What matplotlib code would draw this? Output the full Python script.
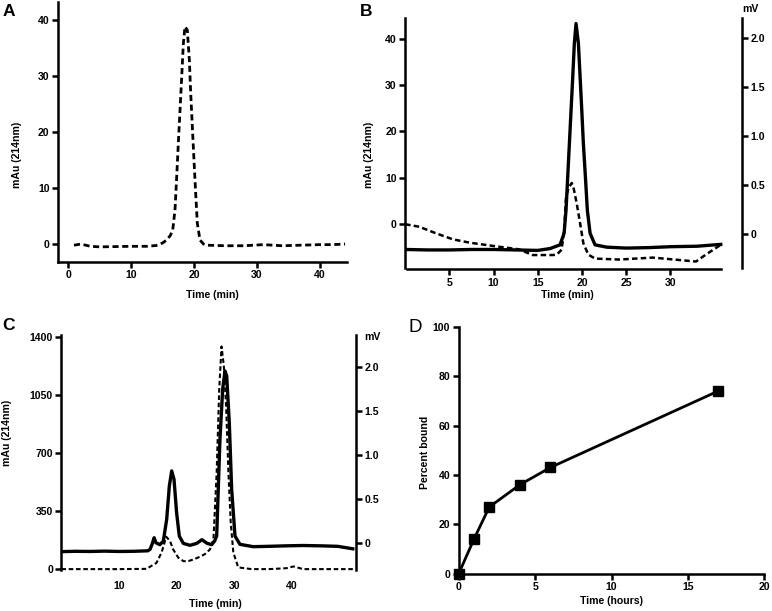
import matplotlib
matplotlib.use("Agg")
import matplotlib.pyplot as plt
import numpy as np

plt.rcParams['font.family'] = ['Liberation Sans', 'DejaVu Sans']
plt.rcParams['font.weight'] = 'bold'
plt.rcParams['axes.linewidth'] = 1.8

# ---------------- Panel A data ----------------
a_time = [0.9, 2, 3.5, 5, 7.5, 10, 12.5, 14, 15, 15.6, 16.2, 16.6, 16.96, 17.23, 17.49,
          17.76, 18.03, 18.29, 18.55, 18.92, 19.24, 19.46, 19.72, 19.98, 20.25, 20.51,
          20.94, 21.5, 22, 25, 28, 31, 34, 37, 40, 42, 44]
a_mau = [-0.2, 0.0, -0.4, -0.5, -0.45, -0.4, -0.4, -0.25, 0.2, 0.7, 1.5, 2.5, 6.1, 12.0, 18.0,
         23.9, 29.9, 35.8, 38.8, 38.2, 32.9, 26.9, 20.9, 15.0, 9.05, 3.7,
         0.7, 0.0, -0.2, -0.3, -0.3, -0.1, -0.3, -0.2, -0.1, -0.1, 0.0]

# ---------------- Panel B data ----------------
b_uv_time = [0.1, 2.5, 5, 7.5, 10, 12.5, 15, 16.4, 17.52, 17.98, 18.2, 18.39, 18.58, 18.77,
             18.96, 19.14, 19.33, 19.6, 19.79, 19.98, 20.16, 20.39, 20.61, 20.92, 21.48,
             22.8, 25, 27.5, 30, 33, 35.7]
b_uv_mau = [-5.5, -5.6, -5.6, -5.5, -5.5, -5.6, -5.7, -5.3, -4.5, -2.0, 3.0, 10.2, 17.4, 24.6,
            31.8, 39.0, 43.3, 39.0, 31.8, 24.6, 17.4, 10.2, 3.0, -2.0, -4.5,
            -5.0, -5.2, -5.1, -4.9, -4.8, -4.4]
b_rad_time = [0.0, 1.6, 3.5, 5.4, 7.3, 10, 12.9, 14.4, 16.7, 17.15, 17.7, 18.0, 18.2, 18.5,
              18.84, 19.03, 19.41, 19.79, 20.16, 20.72, 21.48, 24.2, 28, 32.9, 34, 35.7]
b_rad_mv = [0.10, 0.074, 0.007, -0.054, -0.088, -0.122, -0.156, -0.214, -0.214, -0.21, -0.16,
            0.05, 0.38, 0.47, 0.52, 0.48, 0.31, 0.11, -0.095, -0.21, -0.25, -0.26, -0.24,
            -0.28, -0.21, -0.11]

# ---------------- Panel C data ----------------
c_uv_time = [0.0, 2.5, 5, 7.5, 10, 12.5, 15.0, 15.4, 15.8, 16.1, 16.4, 17.1, 17.7, 18.28, 18.74,
             19.15, 19.55, 20.0, 20.47, 21.16, 22.33, 23.5, 24.4, 25.3, 26.1, 26.6, 26.96,
             27.53, 28.0, 28.4, 28.7, 29.15, 29.56, 30.14, 31.0, 33.3, 36, 39, 42, 45, 48, 50.6]
c_uv_mau = [103, 105, 104, 106, 104, 105, 108, 117, 153, 187, 157, 145, 167, 298, 499,
            590, 540, 338, 197, 153, 141, 153, 175, 153, 145, 167, 197,
            781, 1083, 1193, 1163, 881, 479, 197, 147, 133, 135, 138, 140, 138, 135, 120]
c_rad_time = [0.0, 5, 10, 14.8, 15.7, 16.5, 17.4, 18.2, 18.85, 19.4, 20.3, 21.2, 22.0, 22.9,
              24.05, 24.9, 25.8, 26.4, 26.96, 27.4, 27.8, 28.2, 28.6, 29.0, 29.4, 29.85,
              30.7, 33, 36, 39, 40.3, 42, 45, 48, 50.6]
c_rad_mv = [-0.30, -0.30, -0.30, -0.297, -0.26, -0.23, -0.11, 0.068, 0.02, -0.076, -0.17, -0.21,
            -0.21, -0.19, -0.16, -0.13, -0.076, 0.038, 0.80, 1.74, 2.23, 2.01, 1.55, 0.80,
            0.23, -0.11, -0.28, -0.30, -0.30, -0.29, -0.27, -0.30, -0.30, -0.30, -0.30]

# ---------------- Panel D data ----------------
d_time = [0, 1, 2, 4, 6, 17]
d_bound = [0, 14, 27, 36, 43, 74]

W, H = 772, 611
fig = plt.figure(figsize=(W / 100, H / 100), dpi=100)

def box(l, r, t, b):
    return [l / W, 1 - b / H, (r - l) / W, (b - t) / H]

TFS = 7.6
LFS = 7.6
DASH = (2.2, 1.3)

def style(ax):
    ax.tick_params(direction='out', length=4, width=1.8, labelsize=TFS, pad=2)
    for lab in ax.get_xticklabels() + ax.get_yticklabels():
        lab.set_fontweight('bold')

# ---------------- Panel A ----------------
axA = fig.add_axes(box(58, 346.7, 2, 262))
axA.plot(a_time, a_mau, color='black', lw=2.0, ls=(0, DASH))
axA.set_xlim(-1.64, 44.26)
axA.set_ylim(-3.2, 43.2)
axA.set_xticks([0, 10, 20, 30, 40])
axA.set_yticks([0, 10, 20, 30, 40])
axA.spines[['top', 'right']].set_visible(False)
style(axA)
fig.text(212 / W, 1 - 295 / H, 'Time (min)', ha='center', va='center', fontsize=LFS, fontweight='bold')
fig.text(17 / W, 1 - 155 / H, 'mAu (214nm)', ha='center', va='center', rotation=90, fontsize=LFS, fontweight='bold')
fig.text(3 / W, 1 - 4 / H, 'A', ha='left', va='top', fontsize=12.5, fontweight='bold')

# ---------------- Panel B ----------------
axB = fig.add_axes(box(405.1, 742, 17.5, 268))
axB.plot(b_uv_time, b_uv_mau, color='black', lw=2.4)
axB.set_xlim(0, 38.1)
axB.set_ylim(-9.5, 44.6)
axB.set_xticks([5, 10, 15, 20, 25, 30])
axB.set_yticks([0, 10, 20, 30, 40])
axB.spines[['top', 'right']].set_visible(False)
axB.spines['bottom'].set_bounds(0.2, 35.7)
axB.spines['bottom'].set_position(('outward', 1))
style(axB)
axB2 = axB.twinx()
axB2.plot(b_rad_time, b_rad_mv, color='black', lw=1.8, ls=(0, DASH))
axB2.set_ylim(-0.346, 2.205)
axB2.set_yticks([0, 0.5, 1.0, 1.5, 2.0])
axB2.set_yticklabels(['0', '0.5', '1.0', '1.5', '2.0'])
for s in ['top', 'left', 'bottom']:
    axB2.spines[s].set_visible(False)
style(axB2)
fig.text(567.7 / W, 1 - 295 / H, 'Time (min)', ha='center', va='center', fontsize=LFS, fontweight='bold')
fig.text(369 / W, 1 - 155 / H, 'mAu (214nm)', ha='center', va='center', rotation=90, fontsize=LFS, fontweight='bold')
fig.text(750 / W, 1 - 9 / H, 'mV', ha='center', va='center', fontsize=TFS, fontweight='bold')
fig.text(360 / W, 1 - 4 / H, 'B', ha='left', va='top', fontsize=12.5, fontweight='bold')

# ---------------- Panel C ----------------
axC = fig.add_axes(box(61.4, 356, 335, 570))
axC.plot(c_uv_time, c_uv_mau, color='black', lw=2.4)
axC.set_xlim(0, 51.15)
axC.set_ylim(-7.8, 1410)
axC.set_xticks([10, 20, 30, 40])
axC.set_yticks([0, 350, 700, 1050, 1400])
axC.spines[['top', 'right', 'bottom']].set_visible(False)
style(axC)
axC.tick_params(axis='x', length=0, pad=8)
axC2 = axC.twinx()
axC2.plot(c_rad_time, c_rad_mv, color='black', lw=1.5, ls=(0, DASH), clip_on=False)
axC2.set_ylim(-0.31, 2.36)
axC2.set_yticks([0, 0.5, 1.0, 1.5, 2.0])
axC2.set_yticklabels(['0', '0.5', '1.0', '1.5', '2.0'])
for s in ['top', 'left', 'bottom']:
    axC2.spines[s].set_visible(False)
style(axC2)
fig.text(215 / W, 1 - 604 / H, 'Time (min)', ha='center', va='center', fontsize=LFS, fontweight='bold')
fig.text(7 / W, 1 - 433 / H, 'mAu (214nm)', ha='center', va='center', rotation=90, fontsize=LFS, fontweight='bold')
fig.text(372 / W, 1 - 337 / H, 'mV', ha='center', va='center', fontsize=TFS, fontweight='bold')
fig.text(2 / W, 1 - 318 / H, 'C', ha='left', va='top', fontsize=12.5, fontweight='bold')

# ---------------- Panel D ----------------
axD = fig.add_axes(box(458.7, 764.3, 326.7, 573.7))
axD.plot(d_time, d_bound, color='black', lw=2.0, marker='s', markersize=6.5, clip_on=False, zorder=5)
axD.set_xlim(0, 20)
axD.set_ylim(0, 100)
axD.set_xticks([0, 5, 10, 15, 20])
axD.set_yticks([0, 20, 40, 60, 80, 100])
axD.spines[['top', 'right']].set_visible(False)
style(axD)
fig.text(611 / W, 1 - 601 / H, 'Time (hours)', ha='center', va='center', fontsize=LFS, fontweight='bold')
fig.text(425.3 / W, 1 - 452 / H, 'Percent bound', ha='center', va='center', rotation=90, fontsize=LFS, fontweight='bold')
fig.text(409 / W, 1 - 319 / H, 'D', ha='left', va='top', fontsize=13.5, fontweight='normal')

fig.savefig('out.png', dpi=100)
